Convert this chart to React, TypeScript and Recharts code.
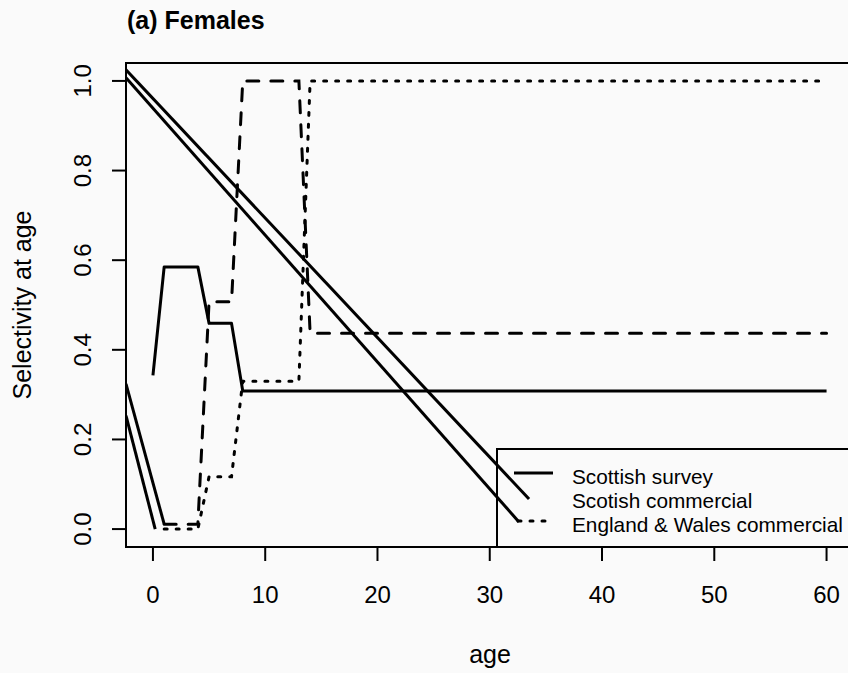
import { LineChart, Line, XAxis, YAxis, ReferenceArea, Legend } from 'recharts'

// selectivity curves, read at their break points (straight in between)
const surveyAges = [0, 1, 4, 5, 7, 8, 60]
const surveySel = [0.343, 0.585, 0.585, 0.459, 0.459, 0.308, 0.308]

const scotCommAges = [1, 4, 5, 7, 8, 13, 14, 60]
const scotCommSel = [0.011, 0.011, 0.507, 0.507, 1.0, 1.0, 0.437, 0.437]

const ewCommAges = [1, 4, 5, 7, 8, 13, 14, 60]
const ewCommSel = [0, 0, 0.117, 0.117, 0.33, 0.33, 1.0, 1.0]

// the stray straight strokes that show up in the original figure
const strayAges = [
  [-2.4, 1],
  [-2.4, 0.2],
  [-2.4, 33.5],
  [-2.4, 32.6],
]
const straySel = [
  [0.324, 0.011],
  [0.253, 0],
  [1.025, 0.067],
  [1.007, 0.016],
]

const xTicks = [0, 10, 20, 30, 40, 50, 60]
const yTicks = [0, 0.2, 0.4, 0.6, 0.8, 1.0]
const legendNames = ['Scottish survey', 'Scotish commercial', 'England & Wales commercial']

const FONT = '"Liberation Sans", Arial, Helvetica, sans-serif'

const toPoints = (ages: number[], sel: number[]) =>
  ages.map((age, i) => ({ age, sel: sel[i] }))

const survey = toPoints(surveyAges, surveySel)
const scotComm = toPoints(scotCommAges, scotCommSel)
const ewComm = toPoints(ewCommAges, ewCommSel)
const strays = strayAges.map((a, i) => toPoints(a, straySel[i]))

const XTick = (props: any) => {
  const { x, y, payload } = props
  return (
    <text x={x} y={y + 42} textAnchor="middle" fontSize={24} fontFamily={FONT} fill="#000">
      {payload.value}
    </text>
  )
}

const YTick = (props: any) => {
  const { x, y, payload } = props
  const bx = x - 21
  return (
    <text
      x={bx}
      y={y}
      transform={`rotate(-90 ${bx} ${y})`}
      textAnchor="middle"
      fontSize={24}
      fontFamily={FONT}
      fill="#000"
    >
      {Number(payload.value).toFixed(1)}
    </text>
  )
}

const LegendBox = () => (
  <svg width={420} height={100} style={{ display: 'block' }}>
    <rect x={1} y={1} width={418} height={98} fill="none" stroke="#000" strokeWidth={2} />
    <line x1={18} y1={25} x2={57} y2={25} stroke="#000" strokeWidth={3} />
    <line
      x1={22}
      y1={73}
      x2={56}
      y2={73}
      stroke="#000"
      strokeWidth={3}
      strokeDasharray="3 9"
      strokeLinecap="round"
    />
    {legendNames.map((name, i) => (
      <text key={name} x={76} y={36 + i * 24} fontSize={20.8} fontFamily={FONT} fill="#000">
        {name}
      </text>
    ))}
  </svg>
)

export default function App() {
  return (
    <div
      style={{
        position: 'fixed',
        left: 0,
        top: 0,
        width: 848,
        height: 673,
        overflow: 'hidden',
        background: '#fafafa',
      }}
    >
      <LineChart
        width={880}
        height={673}
        margin={{ top: 63, right: 26.5, left: 0, bottom: 0 }}
      >
        <XAxis
          dataKey="age"
          type="number"
          domain={[-2.4, 62.4]}
          ticks={xTicks}
          interval={0}
          allowDataOverflow
          axisLine={false}
          tickSize={14}
          tickMargin={0}
          tickLine={{ stroke: '#000', strokeWidth: 2 }}
          tick={<XTick />}
          height={126}
        />
        <YAxis
          type="number"
          domain={[-0.04, 1.04]}
          ticks={yTicks}
          interval={0}
          allowDataOverflow
          axisLine={false}
          tickSize={14}
          tickMargin={0}
          tickLine={{ stroke: '#000', strokeWidth: 2 }}
          tick={<YTick />}
          width={126}
        />
        <ReferenceArea
          x1={-2.4}
          x2={62.4}
          y1={-0.04}
          y2={1.04}
          fill="none"
          stroke="#000"
          strokeWidth={2}
        />
        {strays.map((pts, i) => (
          <Line
            key={'stray' + i}
            data={pts}
            dataKey="sel"
            type="linear"
            stroke="#000"
            strokeWidth={3}
            dot={false}
            legendType="none"
            isAnimationActive={false}
          />
        ))}
        <Line
          data={survey}
          dataKey="sel"
          name={legendNames[0]}
          type="linear"
          stroke="#000"
          strokeWidth={3}
          strokeLinejoin="round"
          dot={false}
          isAnimationActive={false}
        />
        <Line
          data={scotComm}
          dataKey="sel"
          name={legendNames[1]}
          type="linear"
          stroke="#000"
          strokeWidth={3}
          strokeDasharray="12 12"
          strokeLinecap="round"
          dot={false}
          isAnimationActive={false}
        />
        <Line
          data={ewComm}
          dataKey="sel"
          name={legendNames[2]}
          type="linear"
          stroke="#000"
          strokeWidth={3}
          strokeDasharray="3 9"
          strokeLinecap="round"
          dot={false}
          isAnimationActive={false}
        />
        <Legend
          layout="horizontal"
          verticalAlign="middle"
          align="center"
          wrapperStyle={{ left: 496, top: 448, width: 420, height: 100 }}
          content={() => <LegendBox />}
        />
      </LineChart>
      <svg
        width={848}
        height={673}
        style={{ position: 'absolute', left: 0, top: 0, pointerEvents: 'none' }}
      >
        <text x={127} y={29} fontSize={25} fontWeight="bold" fontFamily={FONT} fill="#000">
          (a) Females
        </text>
        <text
          x={31}
          y={305}
          transform="rotate(-90 31 305)"
          textAnchor="middle"
          fontSize={25}
          fontFamily={FONT}
          fill="#000"
        >
          Selectivity at age
        </text>
        <text x={490} y={663} textAnchor="middle" fontSize={25} fontFamily={FONT} fill="#000">
          age
        </text>
      </svg>
    </div>
  )
}
